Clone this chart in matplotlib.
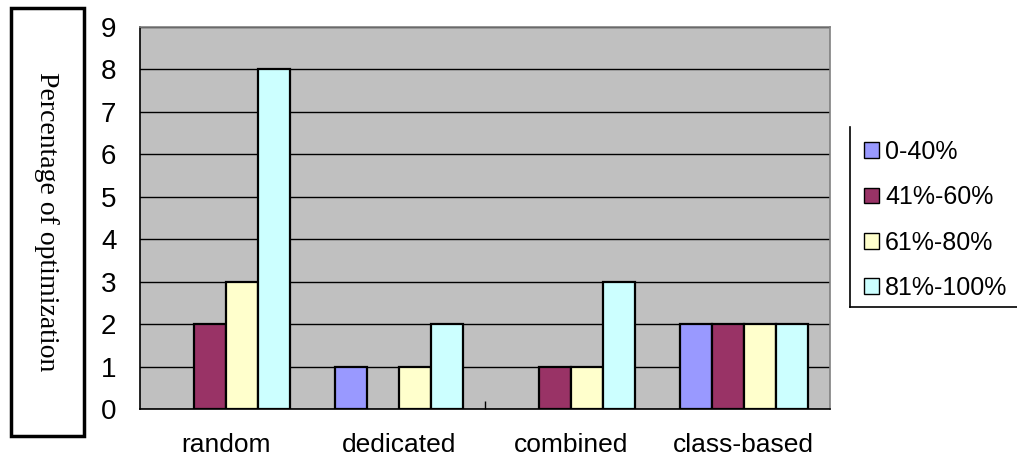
import matplotlib
matplotlib.use("Agg")
import matplotlib.pyplot as plt
import numpy as np
from matplotlib.patches import Rectangle
from matplotlib.lines import Line2D

categories = ["random", "dedicated", "combined", "class-based"]
series_labels = ["0-40%", "41%-60%", "61%-80%", "81%-100%"]
values = {
    "0-40%":    [0, 1, 0, 2],
    "41%-60%":  [2, 0, 1, 2],
    "61%-80%":  [3, 1, 1, 2],
    "81%-100%": [8, 2, 3, 2],
}
colors = ["#9999FF", "#993366", "#FFFFCC", "#CCFFFF"]
y_ticks = list(range(0, 10))

W, H = 1017, 459
fig = plt.figure(figsize=(W / 100, H / 100), dpi=100)
fig.patch.set_facecolor("white")

ax = fig.add_axes([140 / W, 1 - 409 / H, 690 / W, (409 - 27) / H])
ax.set_facecolor("#C0C0C0")

x = np.arange(len(categories))
bw = 0.185
for i, lab in enumerate(series_labels):
    offs = (i - 1.5) * bw
    vals = np.array(values[lab], dtype=float)
    keep = vals > 0  # empty categories draw nothing
    ax.bar(x[keep] + offs, vals[keep], width=bw, color=colors[i],
           edgecolor="black", linewidth=1.6, zorder=3, label=lab)

ax.set_xlim(-0.5, len(categories) - 0.5)
ax.set_ylim(0, 9)
ax.set_yticks(y_ticks)
ax.yaxis.grid(True, color="black", linewidth=1.0, zorder=1)
ax.set_axisbelow(True)

ax.set_xticks(x)
ax.set_xticklabels(categories, family="Liberation Sans", fontsize=19)
ax.tick_params(axis="x", length=0, pad=17)
ax.set_xticks([1.5], minor=True)
ax.tick_params(axis="x", which="minor", direction="in", length=6,
               width=1, color="black")
for t in ax.get_yticklabels():
    t.set_family("Liberation Sans")
    t.set_fontsize(20)
ax.tick_params(axis="y", length=0, pad=17)

for side in ("left", "bottom"):
    ax.spines[side].set_color("black")
    ax.spines[side].set_linewidth(1.2)
for side in ("top", "right"):
    ax.spines[side].set_color("#808080")
    ax.spines[side].set_linewidth(1.2)

# boxed axis title on the left
fig.patches.append(Rectangle((11 / W, 1 - 436 / H), 73 / W, 428 / H,
                             transform=fig.transFigure, fill=False,
                             edgecolor="black", linewidth=2.5))
fig.text(46 / W, 1 - 222 / H, "Percentage of optimization", rotation=-90,
         ha="center", va="center", family="Liberation Serif", fontsize=20)

# legend with a partially visible frame
handles = [Rectangle((0, 0), 1, 1, facecolor=c, edgecolor="black",
                     linewidth=1.0) for c in colors]
leg = fig.legend(handles, series_labels, loc="upper left",
                 bbox_to_anchor=(864 / W, 1 - 140 / H), frameon=False,
                 prop={"family": "Liberation Sans", "size": 18},
                 handlelength=0.6, handleheight=0.6, handletextpad=0.25,
                 labelspacing=0.85, borderaxespad=0, borderpad=0)
fig.lines.append(Line2D([850 / W, 850 / W], [1 - 127 / H, 1 - 307 / H],
                        transform=fig.transFigure, color="black", lw=1.2))
fig.lines.append(Line2D([850 / W, 1.0], [1 - 307 / H, 1 - 307 / H],
                        transform=fig.transFigure, color="black", lw=1.2))

fig.savefig("out.png", dpi=100)
